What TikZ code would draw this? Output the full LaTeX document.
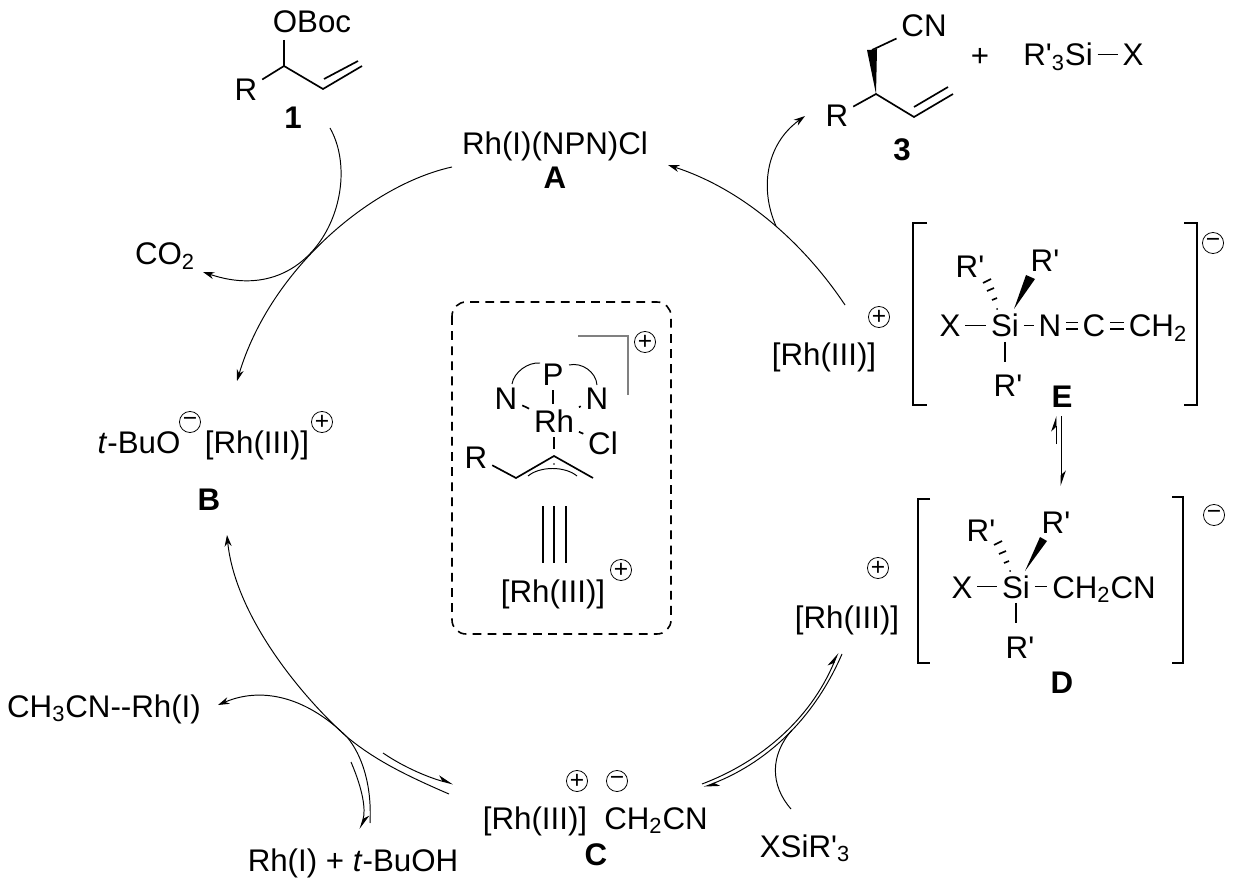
\documentclass[tikz,border=0pt]{standalone}
\usepackage{fontspec}
\setmainfont{Liberation Sans}
\usepackage{tikz}
\usetikzlibrary{arrows.meta}
\newcommand{\Rp}{R\textquotesingle}
\tikzset{
	lab/.style={anchor=base,inner sep=2.6pt,text height=13pt,text depth=0pt,font=\fontsize{17.8}{20}\selectfont},
	tag/.style={lab,font=\fontsize{17.8}{20}\selectfont\bfseries},
	bond/.style={line width=0.95pt},
	dbond/.style={bond,double,double distance=2.6pt},
	curve/.style={line width=0.55pt},
	arr/.style={curve,-{Stealth[length=6.5pt,width=4pt]}},
	harp/.style={curve,-{Stealth[harpoon,length=8pt,width=5.5pt]}},
	charge/.style={circle,draw,line width=0.45pt,inner sep=0pt,minimum size=12pt,font=\fontsize{14}{14}\selectfont},
	clip box/.style={line width=0.9pt,dash pattern=on 5pt off 3.6pt,rounded corners=8pt}
}
\begin{document}
\begin{tikzpicture}[x=0.02cm,y=-0.02cm]
	\useasboundingbox (0,0) rectangle (1240,888);
	\node[lab] (OB) at (312,33) {OBoc};
	\node[lab] (R1) at (246,101) {R};
	\node[tag] (one) at (293,129) {1};
	\coordinate (c1) at (284,66);
	\coordinate (c2) at (323,89);
	\coordinate (c3) at (362,66);
	\draw[bond] (R1) -- (c1) -- (c2) -- (c3);
	\draw[bond] (284,40) -- (c1);
	\draw[bond] (324,79) -- (358,61);
	\node[lab] (CN) at (924,37) {CN};
	\node[lab] (R3) at (837,127) {R};
	\node[tag] (three) at (902,161) {3};
	\coordinate (d1) at (876,94);
	\coordinate (d2) at (872,50);
	\coordinate (d3) at (914,117);
	\coordinate (d4) at (953,94);
	\fill (d1) -- (867,50) -- (d2) -- (877,49) -- cycle;
	\draw[bond] (d2) -- (CN);
	\draw[bond] (R3) -- (d1) -- (d3) -- (d4);
	\draw[bond] (914,107) -- (948,87);
	\node[lab] (plus) at (980,67) {+};
	\node[lab] (Si3) at (1058,66) {\Rp\textsubscript{3}Si};
	\node[lab] (X3) at (1133,66) {X};
	\draw[bond] (Si3) -- (X3);
	\node[lab] (A) at (555,155) {Rh(I)(NPN)Cl};
	\node[tag] (Atag) at (555,189) {A};
	\node[lab] (CO) at (165,265) {CO\textsubscript{2}};
	\node[lab] (tBu) at (139,453) {\textit{t}-BuO};
	\node[charge] (tBum) at (190,422) {−};
	\node[lab] (B) at (257,453) {[Rh(III)]};
	\node[charge] (Bp) at (322,422) {+};
	\node[tag] (Btag) at (209,510) {B};
	\node[lab] (CH3) at (104,717) {CH\textsubscript{3}CN-{}-Rh(I)};
	\node[lab] (RhOH) at (353,871) {Rh(I) + \textit{t}-BuOH};
	\node[lab] (C) at (535,829) {[Rh(III)]};
	\node[lab] (CCN) at (656,829) {CH\textsubscript{2}CN};
	\node[charge] (Cp) at (577,781) {+};
	\node[charge] (Cm) at (617,781) {−};
	\node[tag] (Ctag) at (596,865) {C};
	\node[lab] (XSi) at (805,857) {XSiR\textquotesingle\textsubscript{3}};
	\node[lab] (Erh) at (824,365) {[Rh(III)]};
	\node[charge] (Ep) at (879,317) {+};
	\draw[bond] (927,223) -- (913,223) -- (913,405) -- (927,405);
	\draw[bond] (1184,223) -- (1197,223) -- (1197,405) -- (1184,405);
	\node[charge] (Em) at (1213,243) {−};
	\node[lab] (EX) at (950,337) {X};
	\node[lab] (ESi) at (1005,337) {Si};
	\node[lab] (EN) at (1050,337) {N};
	\node[lab] (EC) at (1094,337) {C};
	\node[lab] (ECH) at (1158,337) {CH\textsubscript{2}};
	\node[lab] (ERa) at (970,278) {\Rp};
	\node[lab] (ERb) at (1045,272) {\Rp};
	\node[lab] (ERc) at (1008,397) {\Rp};
	\draw[bond] (EX) -- (ESi);
	\draw[bond] (ESi) -- (EN);
	\draw[dbond] (EN) -- (EC);
	\draw[dbond] (EC) -- (ECH);
	\draw[bond,shorten >=4pt] (ESi.south) -- (ESi.south |- ERc.north);
	\fill (1014,309) -- (1026,275) -- (1035,279) -- cycle;
	\draw[bond] (983,283) -- (991,279);
	\draw[bond] (987,291) -- (994,288);
	\draw[bond] (992,300) -- (997,298);
	\fill (997,309) circle (1);
	\node[tag] (Etag) at (1062,407) {E};
	\node[lab] (Drh) at (847,628) {[Rh(III)]};
	\node[charge] (Dp) at (878,568) {+};
	\draw[bond] (930,499) -- (918,499) -- (918,663) -- (930,663);
	\draw[bond] (1172,497) -- (1183,497) -- (1183,663) -- (1172,663);
	\node[charge] (Dm) at (1214,515) {−};
	\node[lab] (DX) at (962,598) {X};
	\node[lab] (DSi) at (1016,598) {Si};
	\node[lab] (DCH) at (1104,598) {CH\textsubscript{2}CN};
	\node[lab] (DRa) at (981,541) {\Rp};
	\node[lab] (DRb) at (1056,533) {\Rp};
	\node[lab] (DRc) at (1020,658) {\Rp};
	\draw[bond] (DX) -- (DSi);
	\draw[bond] (DSi) -- (DCH);
	\draw[bond,shorten >=4pt] (DSi.south) -- (DSi.south |- DRc.north);
	\fill (1025,571) -- (1040,537) -- (1047,541) -- cycle;
	\draw[bond] (994,545) -- (1002,541);
	\draw[bond] (999,554) -- (1006,551);
	\draw[bond] (1004,563) -- (1009,561);
	\fill (1010,571) circle (1);
	\node[tag] (Dtag) at (1062,693) {D};
	\draw[clip box] (452,302) rectangle (671,634);
	\node[lab] (P) at (553,385) {P};
	\node[lab] (Nl) at (506,409) {N};
	\node[lab] (Nr) at (597,409) {N};
	\node[lab] (Rh) at (554,432) {Rh};
	\node[lab] (Cl) at (603,454) {Cl};
	\node[lab] (Ra) at (476,468) {R};
	\coordinate (e1) at (554,456);
	\coordinate (e2) at (516,478);
	\coordinate (e3) at (593,478);
	\draw[bond] (Rh.north -| P) -- (P);
	\draw[bond] (Rh) -- (Nl);
	\draw[bond] (Rh) -- (Nr);
	\draw[bond] (Rh) -- (Cl);
	\draw[bond,shorten >=4pt] (Rh) -- (e1);
	\draw[bond] (Ra) -- (e2) -- (e1) -- (e3);
	\draw[curve] (528,476) .. controls (540,466) and (565,466) .. (577,476);
	\fill (554,464) circle (0.8);
	\draw[curve] (512,384) .. controls (514,372) and (528,362) .. (540,363);
	\draw[curve] (569,365) .. controls (582,362) and (596,372) .. (597,385);
	\draw[bond,gray] (578,336) -- (628,336) -- (628,395);
	\node[charge] (Bxp) at (645,342) {+};
	\draw[bond] (543,506) -- (543,563);
	\draw[bond] (554,506) -- (554,563);
	\draw[bond] (566,506) -- (566,563);
	\node[lab] (Bxr) at (553,602) {[Rh(III)]};
	\node[charge] (Bxq) at (621,570) {+};
	\coordinate (a1) at (452,167);
	\coordinate (b1) at (237,381);
	\coordinate (s1) at (330,128);
	\coordinate (o1) at (203,272);
	\coordinate (e4) at (845,305);
	\coordinate (a2) at (668,165);
	\coordinate (e5) at (776,226);
	\coordinate (p3) at (805,116);
	\coordinate (t1) at (370,823);
	\coordinate (b2) at (227,535);
	\coordinate (t2) at (351,762);
	\coordinate (t3) at (360,829);
	\coordinate (m1) at (347,737);
	\coordinate (c4) at (449,794);
	\coordinate (r1) at (218,705);
	\coordinate (c5) at (383,753);
	\coordinate (c6) at (453,784);
	\coordinate (c7) at (702,784);
	\coordinate (d5) at (838,653);
	\coordinate (d6) at (842,654);
	\coordinate (c8) at (704,787);
	\coordinate (x1) at (791,809);
	\coordinate (x2) at (792,730);
	\coordinate (u1) at (1056,444);
	\coordinate (u2) at (1056,416);
	\coordinate (v1) at (1061,416);
	\coordinate (v2) at (1061,486);
	\draw[arr] (a1) .. controls (370,185) and (270,270) .. (b1);
	\draw[arr] (s1) .. controls (365,190) and (315,310) .. (o1);
	\draw[arr] (e4) .. controls (805,245) and (745,190) .. (a2);
	\draw[arr] (e5) .. controls (760,190) and (765,145) .. (p3);
	\draw[arr] (t1) .. controls (372,785) and (362,755) .. (m1) .. controls (300,695) and (235,615) .. (b2);
	\draw[harp] (t2) .. controls (363,790) and (366,810) .. (t3);
	\draw[arr] (c4) .. controls (405,775) and (375,760) .. (m1) .. controls (310,700) and (265,685) .. (r1);
	\draw[harp] (c5) .. controls (405,768) and (430,778) .. (c6);
	\draw[harp] (c7) .. controls (760,762) and (810,720) .. (d5);
	\draw[harp] (d6) .. controls (812,723) and (763,764) .. (c8);
	\draw[curve] (x1) .. controls (770,785) and (770,755) .. (x2);
	\draw[harp] (u1) -- (u2);
	\draw[harp] (v1) -- (v2);
\end{tikzpicture}
\end{document}
